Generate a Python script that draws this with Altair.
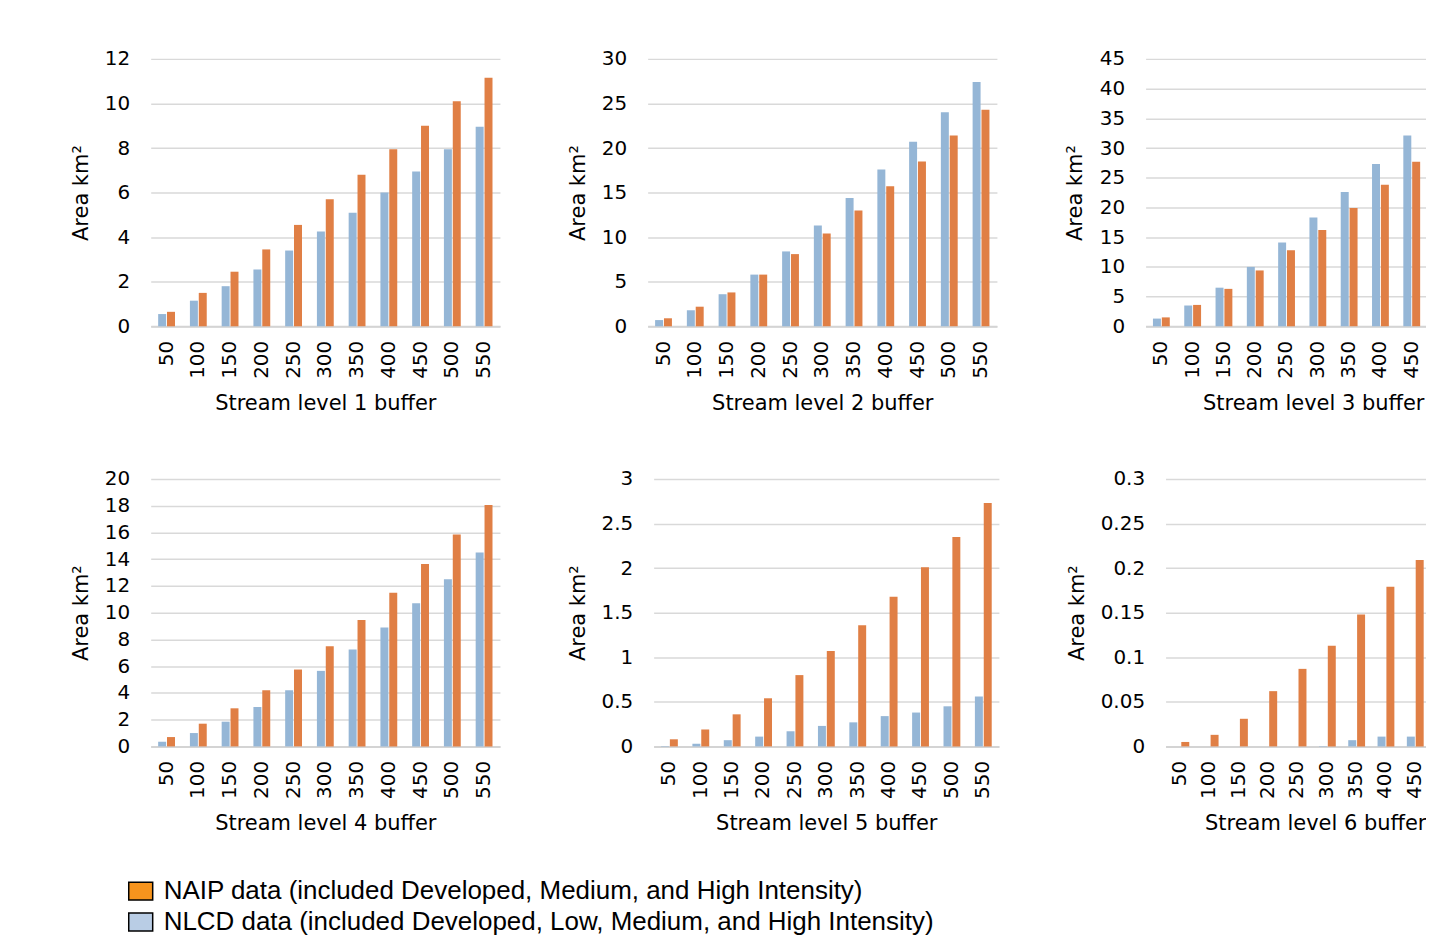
import altair as alt
import pandas as pd

# ---------------- data ----------------
buffers11 = ["50", "100", "150", "200", "250", "300", "350", "400", "450", "500", "550"]
buffers9 = buffers11[:9]

series_names = ["NLCD", "NAIP"]
series_colors = ["#95B6D6", "#E07F45"]

l1_nlcd = [0.55, 1.15, 1.8, 2.55, 3.4, 4.25, 5.1, 6.0, 6.95, 7.95, 8.95]
l1_naip = [0.65, 1.5, 2.45, 3.45, 4.55, 5.7, 6.8, 7.95, 9.0, 10.1, 11.15]
l2_nlcd = [0.7, 1.8, 3.6, 5.8, 8.4, 11.3, 14.4, 17.6, 20.7, 24.0, 27.4]
l2_naip = [0.9, 2.2, 3.8, 5.8, 8.1, 10.4, 13.0, 15.7, 18.5, 21.4, 24.3]
l3_nlcd = [1.3, 3.5, 6.5, 10.0, 14.1, 18.3, 22.6, 27.3, 32.1]
l3_naip = [1.5, 3.6, 6.3, 9.4, 12.8, 16.2, 19.9, 23.8, 27.7]
l4_nlcd = [0.35, 1.0, 1.85, 2.95, 4.2, 5.65, 7.25, 8.9, 10.7, 12.5, 14.5]
l4_naip = [0.7, 1.7, 2.85, 4.2, 5.75, 7.5, 9.45, 11.5, 13.65, 15.85, 18.05]
l5_nlcd = [0.005, 0.03, 0.07, 0.11, 0.17, 0.23, 0.27, 0.34, 0.38, 0.45, 0.56]
l5_naip = [0.08, 0.19, 0.36, 0.54, 0.80, 1.07, 1.36, 1.68, 2.01, 2.35, 2.73]
l6_nlcd = [0, 0, 0, 0, 0, 0.0005, 0.007, 0.011, 0.011]
l6_naip = [0.005, 0.013, 0.031, 0.062, 0.087, 0.113, 0.148, 0.179, 0.209]

ticks1 = [0, 2, 4, 6, 8, 10, 12]
ticks2 = [0, 5, 10, 15, 20, 25, 30]
ticks3 = [0, 5, 10, 15, 20, 25, 30, 35, 40, 45]
ticks4 = [0, 2, 4, 6, 8, 10, 12, 14, 16, 18, 20]
ticks5 = [0, 0.5, 1, 1.5, 2, 2.5, 3]
ticks6 = [0, 0.05, 0.1, 0.15, 0.2, 0.25, 0.3]

legend_labels = [
    "NAIP data  (included Developed, Medium, and High Intensity)",
    "NLCD data (included Developed, Low, Medium, and High Intensity)",
]
legend_colors = ["#F7941D", "#B9CDE5"]

FONT = "DejaVu Sans"
H = 268


def panel(level, cats, nlcd, naip, ticks, width, title_off, title_x=None):
    rows = []
    for c, a, b in zip(cats, nlcd, naip):
        rows.append({"buffer": c, "series": "NLCD", "value": a})
        rows.append({"buffer": c, "series": "NAIP", "value": b})
    df = pd.DataFrame(rows)
    shown = "[" + ",".join("'" + c + "'" for c in cats) + "]"
    return (
        alt.Chart(df)
        .mark_bar()
        .encode(
            x=alt.X(
                "buffer:N",
                sort=buffers11,
                scale=alt.Scale(domain=buffers11, paddingInner=0.47, paddingOuter=0.235),
                axis=alt.Axis(
                    title=f"Stream level {level} buffer",
                    labelAngle=-90,
                    labelPadding=14,
                    labelExpr=f"indexof({shown}, datum.label) >= 0 ? datum.label : ''",
                    ticks=False,
                    tickSize=0,
                    domainColor="#D4D4D4",
                    domainWidth=2,
                    labelOverlap=False,
                    titleY=77,
                    titleX=title_x if title_x is not None else width / 2,
                    titleBaseline="middle",
                    titleAlign="center",
                ),
            ),
            xOffset=alt.XOffset("series:N", sort=series_names, scale=alt.Scale(paddingInner=0.1)),
            y=alt.Y(
                "value:Q",
                scale=alt.Scale(domain=[ticks[0], ticks[-1]], nice=False),
                axis=alt.Axis(
                    values=ticks,
                    format=".2~f",
                    title="Area km²",
                    grid=True,
                    gridColor="#D9D9D9",
                    gridWidth=1.5,
                    domain=False,
                    ticks=False,
                    tickSize=0,
                    labelPadding=21,
                    labelOverlap=False,
                    titleX=-title_off,
                    titleY=H / 2,
                    titleAngle=-90,
                    titleBaseline="middle",
                    titleAlign="center",
                ),
            ),
            color=alt.Color(
                "series:N",
                scale=alt.Scale(domain=series_names, range=series_colors),
                legend=None,
            ),
        )
        .properties(width=width, height=H)
    )


p1 = panel(1, buffers11, l1_nlcd, l1_naip, ticks1, 350, 69)
p2 = panel(2, buffers11, l2_nlcd, l2_naip, ticks2, 350, 69)
p3 = panel(3, buffers9, l3_nlcd, l3_naip, ticks3, 345, 70, title_x=168)
p4 = panel(4, buffers11, l4_nlcd, l4_naip, ticks4, 350, 69)
p5 = panel(5, buffers11, l5_nlcd, l5_naip, ticks5, 346, 75)
p6 = panel(6, buffers9, l6_nlcd, l6_naip, ticks6, 323, 88, title_x=150)

row1 = alt.hconcat(p1, p2, p3, spacing=67)
row2 = alt.hconcat(p4, p5, p6, spacing=67)

leg_df = pd.DataFrame({"label": legend_labels, "idx": [0, 1]})
ypos = alt.Y("idx:Q", axis=None, scale=alt.Scale(domain=[0, 1], range=[11, 42]))
leg_rect = (
    alt.Chart(leg_df)
    .mark_point(
        shape="M -1.333 -1 L 1.333 -1 L 1.333 1 L -1.333 1 Z",
        size=324,
        filled=True,
        opacity=1,
        stroke="#000000",
        strokeWidth=1.5,
    )
    .encode(
        y=ypos,
        x=alt.value(-10),
        fill=alt.Fill("label:N", scale=alt.Scale(domain=legend_labels, range=legend_colors), legend=None),
    )
)
leg_text = (
    alt.Chart(leg_df)
    .mark_text(align="left", baseline="middle", font="Liberation Sans", fontSize=26, color="#000000")
    .encode(y=ypos, x=alt.value(13), text="label:N")
)
legend = alt.layer(leg_rect, leg_text).properties(width=900, height=56)

chart = (
    alt.vconcat(alt.vconcat(row1, row2, spacing=56), legend, spacing=45)
    .properties(padding={"left": 62, "top": 40, "right": -64, "bottom": 0})
    .configure_view(stroke=None)
    .configure_axis(
        labelFont=FONT,
        titleFont=FONT,
        labelFontSize=20,
        titleFontSize=21,
        labelColor="#000000",
        titleColor="#000000",
        titleFontWeight="normal",
    )
)

chart.save("out.html", embed_options={"renderer": "svg", "actions": False})
